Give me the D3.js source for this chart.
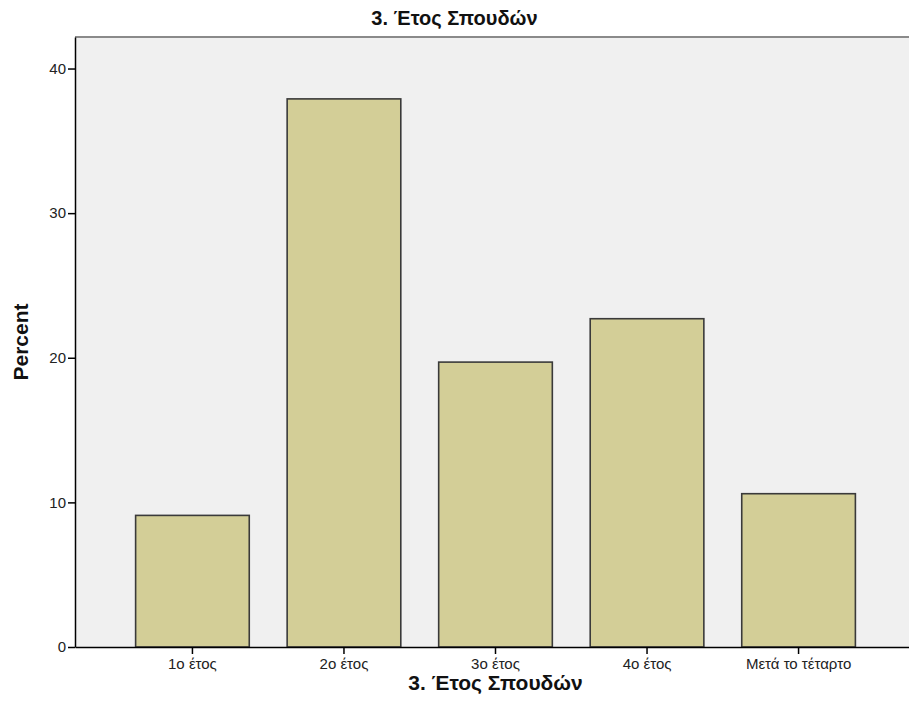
<!DOCTYPE html>
<html>
<head>
<meta charset="utf-8">
<script src="https://cdn.jsdelivr.net/npm/d3@7"></script>
<style>
  html, body { margin: 0; padding: 0; background: #fff; }
  text { font-family: "Liberation Sans", Arial, sans-serif; }
</style>
</head>
<body>
<svg id="chart" width="909" height="722"></svg>
<script>
const categories = ["1ο έτος", "2ο έτος", "3ο έτος", "4ο έτος", "Μετά το τέταρτο"];
const percentValues = [9.1, 37.9, 19.7, 22.7, 10.6];
const yTickValues = [0, 10, 20, 30, 40];
const chartTitle = "3. Έτος Σπουδών";
const xAxisTitle = "3. Έτος Σπουδών";
const yAxisTitle = "Percent";

const svg = d3.select("#chart");
const W = 909, H = 722;
const plot = { left: 75, top: 37, right: 916, bottom: 647 };

svg.append("rect").attr("width", W).attr("height", H).attr("fill", "#fff");

const x = d3.scaleBand()
  .domain(categories)
  .range([plot.left, plot.right])
  .paddingInner(0.25)
  .paddingOuter(0.4);

const y = d3.scaleLinear()
  .domain([0, 42.18])
  .range([plot.bottom, plot.top]);

// plot background
svg.append("rect")
  .attr("x", plot.left).attr("y", plot.top)
  .attr("width", plot.right - plot.left).attr("height", plot.bottom - plot.top)
  .attr("fill", "#f0f0f0");

// top border
svg.append("line")
  .attr("x1", plot.left).attr("x2", W)
  .attr("y1", plot.top).attr("y2", plot.top)
  .attr("stroke", "#8a8a8a").attr("stroke-width", 2);

// bars
svg.append("g").selectAll("rect")
  .data(categories)
  .join("rect")
  .attr("x", d => x(d))
  .attr("y", (d, i) => y(percentValues[i]))
  .attr("width", x.bandwidth())
  .attr("height", (d, i) => y(0) - y(percentValues[i]))
  .attr("fill", "#d3ce97")
  .attr("stroke", "#3a3a3a")
  .attr("stroke-width", 1.6);

// y axis
const yAxis = svg.append("g")
  .attr("transform", `translate(${plot.left},0)`)
  .call(d3.axisLeft(y).tickValues(yTickValues).tickSize(7).tickSizeOuter(0).tickPadding(2).tickFormat(d3.format("d")));
yAxis.select(".domain").attr("stroke", "#000").attr("stroke-width", 1.5);
yAxis.selectAll(".tick line").attr("stroke", "#000").attr("stroke-width", 1.5);
yAxis.selectAll(".tick text").attr("font-size", 15).attr("fill", "#222")
  .attr("font-family", "'Liberation Sans', Arial, sans-serif");

// x axis
const xAxis = svg.append("g")
  .attr("transform", `translate(0,${plot.bottom})`)
  .call(d3.axisBottom(x).tickSize(7).tickPadding(4).tickSizeOuter(0));
xAxis.select(".domain").attr("stroke", "#000").attr("stroke-width", 1.5);
xAxis.selectAll(".tick line").attr("stroke", "#000").attr("stroke-width", 1.5);
xAxis.selectAll(".tick text").attr("font-size", 15).attr("fill", "#222")
  .attr("font-family", "'Liberation Sans', Arial, sans-serif");

// titles
svg.append("text")
  .attr("x", W / 2).attr("y", 25)
  .attr("text-anchor", "middle")
  .attr("font-size", 20).attr("font-weight", "bold").attr("fill", "#111")
  .text(chartTitle);

const bandCenter = (x(categories[0]) + x(categories[categories.length - 1]) + x.bandwidth()) / 2;
svg.append("text")
  .attr("x", bandCenter).attr("y", 690)
  .attr("text-anchor", "middle")
  .attr("font-size", 21).attr("font-weight", "bold").attr("fill", "#111")
  .text(xAxisTitle);

svg.append("text")
  .attr("transform", `translate(28,${(plot.top + plot.bottom) / 2}) rotate(-90)`)
  .attr("text-anchor", "middle")
  .attr("font-size", 21).attr("font-weight", "bold").attr("fill", "#111")
  .text(yAxisTitle);
</script>
</body>
</html>
